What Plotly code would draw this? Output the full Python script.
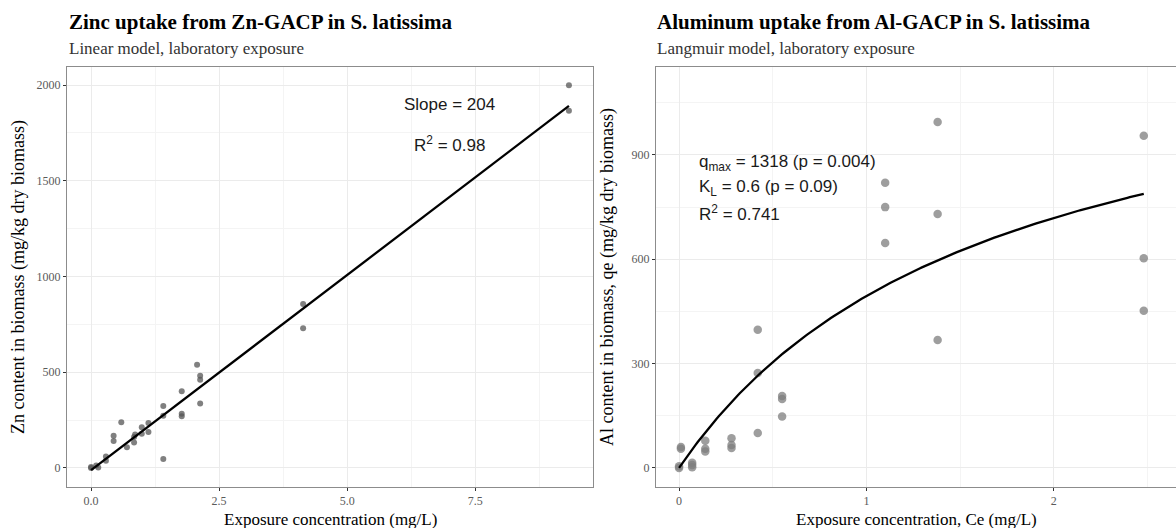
import numpy as np
import plotly.graph_objects as go

# ---------------- Data ----------------
# Left panel: Zn uptake (linear model)
zn_conc = [0, 0, 0.1, 0.14, 0.29, 0.29, 0.44, 0.44, 0.59, 0.70, 0.84, 0.84, 0.86,
           0.99, 0.99, 1.12, 1.12, 1.41, 1.41, 1.41, 1.77, 1.77, 1.77,
           2.07, 2.13, 2.13, 2.13, 4.14, 4.14, 9.33, 9.33]
zn_content = [0, 5, 12, 2, 37, 59, 168, 140, 239, 108, 133, 161, 175,
              178, 213, 188, 234, 323, 272, 47, 400, 283, 270,
              539, 482, 461, 337, 730, 857, 2000, 1866]
zn_slope = 204
zn_intercept = -12
zn_r2 = 0.98

# Right panel: Al uptake (Langmuir model)
al_conc = [0, 0, 0.01, 0.01, 0.07, 0.07, 0.07, 0.14, 0.14, 0.14,
           0.28, 0.28, 0.28, 0.42, 0.42, 0.42, 0.55, 0.55, 0.55,
           1.10, 1.10, 1.10, 1.38, 1.38, 1.38, 2.48, 2.48, 2.48]
al_content = [0, 5, 60, 55, 15, 2, 8, 78, 55, 47,
              85, 66, 57, 100, 397, 273, 207, 198, 148,
              820, 750, 647, 995, 730, 368, 955, 603, 452]
al_qmax = 1318
al_kl = 0.6
al_r2 = 0.741

left_xticks = [0, 2.5, 5, 7.5]
left_xticklabels = ["0.0", "2.5", "5.0", "7.5"]
left_yticks = [0, 500, 1000, 1500, 2000]
right_xticks = [0, 1, 2]
right_yticks = [0, 300, 600, 900]

# ---------------- Figure ----------------
W, H = 1176, 528
fig = go.Figure()

fig.add_trace(go.Scatter(x=zn_conc, y=zn_content, mode="markers",
                         marker=dict(size=6, color="rgba(85,85,85,0.75)"),
                         xaxis="x", yaxis="y", showlegend=False))
xl = np.array([min(zn_conc), max(zn_conc)])
fig.add_trace(go.Scatter(x=xl, y=zn_intercept + zn_slope * xl, mode="lines",
                         line=dict(color="black", width=2.3),
                         xaxis="x", yaxis="y", showlegend=False))

fig.add_trace(go.Scatter(x=al_conc, y=al_content, mode="markers",
                         marker=dict(size=8.5, color="rgba(125,125,125,0.75)"),
                         xaxis="x2", yaxis="y2", showlegend=False))
xc = np.linspace(min(al_conc), max(al_conc), 200)
fig.add_trace(go.Scatter(x=xc, y=al_qmax * al_kl * xc / (1 + al_kl * xc), mode="lines",
                         line=dict(color="black", width=2.3),
                         xaxis="x2", yaxis="y2", showlegend=False))

def px(v):
    return v / W

def py(v):
    return 1 - v / H

grid = "#ebebeb"
tickfont = dict(family="Liberation Serif", size=12, color="#5a5a5a")
common_axis = dict(showgrid=True, gridcolor=grid, gridwidth=1, zeroline=False,
                   showline=True, linecolor="#8c8c8c", linewidth=1, mirror=True,
                   ticks="outside", ticklen=3, tickcolor="#333333", tickwidth=1,
                   tickfont=tickfont)

fig.update_layout(
    width=W, height=H,
    margin=dict(l=0, r=0, t=0, b=0),
    paper_bgcolor="white", plot_bgcolor="white",
    xaxis=dict(domain=[px(67), px(593)], range=[-0.47, 9.8], anchor="y",
               tickvals=left_xticks, ticktext=left_xticklabels,
               minor=dict(dtick=1.25, tick0=1.25, showgrid=True, gridcolor="#f4f4f4", gridwidth=0.6, ticks=""),
               **common_axis),
    yaxis=dict(domain=[py(487), py(67)], range=[-99.75, 2094.75], anchor="x",
               tickvals=left_yticks, ticktext=[str(v) for v in left_yticks],
               minor=dict(dtick=500, tick0=250, showgrid=True, gridcolor="#f4f4f4", gridwidth=0.6, ticks=""),
               **common_axis),
    xaxis2=dict(domain=[px(656), 1.0], range=[-0.123, 2.652], anchor="y2",
                tickvals=right_xticks, ticktext=[str(v) for v in right_xticks],
                minor=dict(dtick=1, tick0=0.5, showgrid=True, gridcolor="#f4f4f4", gridwidth=0.6, ticks=""),
                **common_axis),
    yaxis2=dict(domain=[py(487), py(67)], range=[-55, 1153], anchor="x2",
                tickvals=right_yticks, ticktext=[str(v) for v in right_yticks],
                minor=dict(dtick=300, tick0=150, showgrid=True, gridcolor="#f4f4f4", gridwidth=0.6, ticks=""),
                **common_axis),
)

ann = []
def txt(x, y, text, size, family="Liberation Serif", color="#000", xanchor="left",
        angle=0, bold=False):
    if bold:
        text = "<b>" + text + "</b>"
    ann.append(dict(x=px(x), y=py(y), xref="paper", yref="paper", text=text,
                    showarrow=False, xanchor=xanchor, yanchor="middle", textangle=angle,
                    font=dict(family=family, size=size, color=color)))

# Titles
txt(67, 22, "Zinc uptake from Zn-GACP in S. latissima", 21, bold=True)
txt(67, 48, "Linear model, laboratory exposure", 17, color="#333333")
txt(655, 22, "Aluminum uptake from Al-GACP in S. latissima", 21, bold=True)
txt(655, 48, "Langmuir model, laboratory exposure", 17, color="#333333")

# Axis titles
txt(330, 519, "Exposure concentration (mg/L)", 17, xanchor="center")
txt(916, 519, "Exposure concentration, Ce (mg/L)", 17, xanchor="center")
txt(18, 277, "Zn content in biomass (mg/kg dry biomass)", 18, xanchor="center", angle=-90)
txt(607, 277, "Al content in biomass, qe (mg/kg dry biomass)", 18, xanchor="center", angle=-90)

# Model annotations
sans = "Liberation Sans"
txt(449, 104, f"Slope = {zn_slope}", 17, family=sans, color="#1a1a1a", xanchor="center")
txt(449, 144, f"R<sup>2</sup> = {zn_r2}", 17, family=sans, color="#1a1a1a", xanchor="center")
txt(697, 163, f"q<sub>max</sub> = {al_qmax} (p = 0.004)", 17, family=sans, color="#1a1a1a")
txt(697, 188, f"K<sub>L</sub> = {al_kl} (p = 0.09)", 17, family=sans, color="#1a1a1a")
txt(697, 213, f"R<sup>2</sup> = {al_r2}", 17, family=sans, color="#1a1a1a")

fig.update_layout(annotations=ann)
fig.write_html("out.html")
